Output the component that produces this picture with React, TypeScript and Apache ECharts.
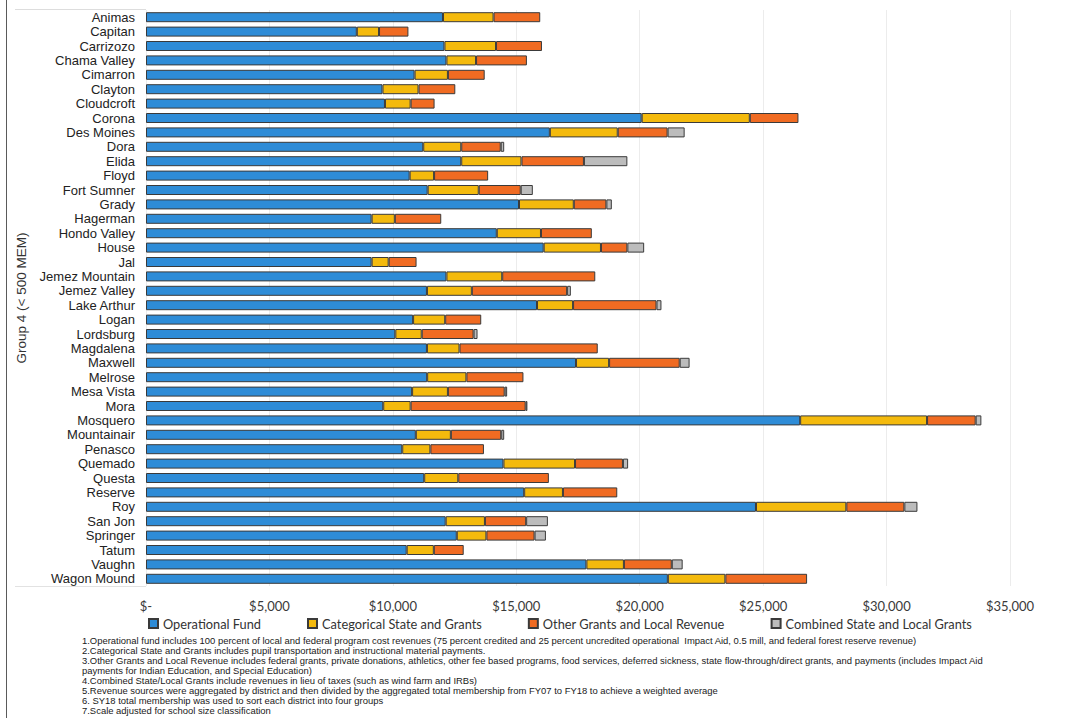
import React, { useEffect, useRef } from "react";
import * as echarts from "echarts";

// Districts in Group 4 (< 500 MEM), top to bottom
const districts = [
  "Animas", "Capitan", "Carrizozo", "Chama Valley", "Cimarron", "Clayton", "Cloudcroft",
  "Corona", "Des Moines", "Dora", "Elida", "Floyd", "Fort Sumner", "Grady", "Hagerman",
  "Hondo Valley", "House", "Jal", "Jemez Mountain", "Jemez Valley", "Lake Arthur", "Logan",
  "Lordsburg", "Magdalena", "Maxwell", "Melrose", "Mesa Vista", "Mora", "Mosquero",
  "Mountainair", "Penasco", "Quemado", "Questa", "Reserve", "Roy", "San Jon", "Springer",
  "Tatum", "Vaughn", "Wagon Mound",
];

// Revenue per member, dollars
const operationalFund = [
  12030, 8540, 12090, 12170, 10880, 9580, 9680, 20080, 16360, 11230, 12770, 10680, 11410,
  15110, 9140, 14210, 16110, 9140, 12170, 11380, 15840, 10820, 10100, 11380, 17420, 11390,
  10780, 9610, 26500, 10930, 10380, 14480, 11270, 15320, 24710, 12140, 12590, 10560, 17840,
  21140,
];
const categoricalStateGrants = [
  2050, 900, 2090, 1200, 1350, 1460, 1040, 4380, 2750, 1540, 2440, 990, 2070, 2220, 940,
  1790, 2320, 690, 2260, 1820, 1460, 1300, 1070, 1320, 1340, 1590, 1450, 1110, 5140, 1420,
  1140, 2900, 1380, 1570, 3660, 1590, 1200, 1100, 1520, 2330,
];
const otherGrantsLocalRevenue = [
  1890, 1190, 1860, 2060, 1490, 1490, 970, 1970, 2020, 1600, 2530, 2190, 1700, 1320, 1880,
  2060, 1070, 1130, 3770, 3860, 3380, 1460, 2100, 5600, 2860, 2310, 2300, 4660, 1970, 2040,
  2170, 1940, 3670, 2200, 2350, 1670, 1950, 1210, 1940, 3310,
];
const combinedStateLocalGrants = [
  0, 0, 0, 0, 0, 0, 0, 0, 690, 140, 1760, 0, 490, 220, 0, 0, 680, 0, 0, 150, 200, 0, 160,
  0, 400, 0, 100, 70, 230, 120, 0, 210, 0, 0, 530, 880, 460, 0, 440, 0,
];

const seriesNames = [
  "Operational Fund",
  "Categorical State and Grants",
  "Other Grants and Local Revenue",
  "Combined State and Local Grants",
];
const seriesColors = ["#2E8CD7", "#F4BA0D", "#F06B22", "#BCBCBC"];

const axisMin = 0;
const axisMax = 35000;
const axisStep = 5000;

const footnotes = [
  "1.Operational fund includes 100 percent of local and federal program cost revenues (75 percent credited and 25 percent uncredited operational  Impact Aid, 0.5 mill, and federal forest reserve revenue)",
  "2.Categorical State and Grants includes pupil transportation and instructional material payments.",
  "3.Other Grants and Local Revenue includes federal grants, private donations, athletics, other fee based programs, food services, deferred sickness, state flow-through/direct grants, and payments (includes Impact Aid",
  "payments for Indian Education, and Special Education)",
  "4.Combined State/Local Grants include revenues in lieu of taxes (such as wind farm and IRBs)",
  "5.Revenue sources were aggregated by district and then divided by the aggregated total membership from FY07 to FY18 to achieve a weighted average",
  "6. SY18 total membership was used to sort each district into four groups",
  "7.Scale adjusted for school size classification",
];

const formatDollars = (v: number) =>
  v === 0 ? "$-" : "$" + v.toLocaleString("en-US");

export default function App() {
  const ref = useRef<HTMLDivElement>(null);

  useEffect(() => {
    if (!ref.current) return;
    const chart = echarts.init(ref.current, undefined, { renderer: "svg" });

    const seriesData = [
      operationalFund,
      categoricalStateGrants,
      otherGrantsLocalRevenue,
      combinedStateLocalGrants,
    ];

    const footnoteGraphics = footnotes.map((line, i) => ({
      type: "text",
      x: 82,
      y: 640 + i * 10,
      silent: true,
      style: {
        text: line,
        font: '9.45px "Liberation Sans Narrow", "Liberation Sans", Arial, sans-serif',
        fill: "#1a1a1a",
        verticalAlign: "middle",
      },
    }));

    chart.setOption({
      animation: false,
      backgroundColor: "#ffffff",
      grid: { left: 146, right: 55, top: 10, bottom: 140, containLabel: false },
      xAxis: {
        type: "value",
        min: axisMin,
        max: axisMax,
        interval: axisStep,
        axisLine: { show: false },
        axisTick: { show: false },
        splitLine: { show: true, lineStyle: { color: "#ececec", width: 1 } },
        axisLabel: {
          formatter: formatDollars,
          fontFamily: "Lato, 'Open Sans', sans-serif",
          fontSize: 13,
          color: "#3a3a3a",
          margin: 13,
        },
      },
      yAxis: {
        type: "category",
        data: districts,
        inverse: true,
        axisLine: { show: false },
        axisTick: { show: false },
        axisLabel: {
          interval: 0,
          fontFamily: "'Liberation Sans', Arial, sans-serif",
          fontSize: 13,
          color: "#222",
          margin: 11,
        },
        name: "Group 4 (< 500 MEM)",
        nameLocation: "middle",
        nameRotate: 90,
        nameGap: 115,
        nameTextStyle: {
          fontFamily: "'Liberation Sans', Arial, sans-serif",
          fontSize: 13.5,
          color: "#333",
        },
      },
      legend: {
        data: seriesNames,
        left: 143,
        top: 612,
        icon: "rect",
        itemWidth: 9,
        itemHeight: 9,
        itemGap: 46,
        textStyle: {
          fontFamily: "Lato, 'Open Sans', sans-serif",
          fontSize: 12.8,
          color: "#333",
        },
      },
      series: seriesNames.map((name, k) => ({
        name,
        type: "bar",
        stack: "revenue",
        barWidth: 10,
        itemStyle: {
          color: seriesColors[k],
          borderColor: "#3a3a3a",
          borderWidth: 1,
        },
        data: seriesData[k].map((v) => (v === 0 ? null : v)),
      })),
      graphic: [
        // page frame and label-area rules
        {
          type: "line",
          silent: true,
          shape: { x1: 6.5, y1: 0, x2: 6.5, y2: 718 },
          style: { stroke: "#5a5a5a", lineWidth: 1 },
        },
        {
          type: "line",
          silent: true,
          shape: { x1: 15, y1: 9.5, x2: 146, y2: 9.5 },
          style: { stroke: "#dddddd", lineWidth: 1 },
        },
        {
          type: "line",
          silent: true,
          shape: { x1: 15, y1: 586.5, x2: 146, y2: 586.5 },
          style: { stroke: "#e2e2e2", lineWidth: 1 },
        },
        ...footnoteGraphics,
      ],
    });

    return () => chart.dispose();
  }, []);

  return (
    <div
      ref={ref}
      style={{
        position: "fixed",
        left: 0,
        top: 0,
        width: 1065,
        height: 726,
        background: "#fff",
      }}
    />
  );
}
